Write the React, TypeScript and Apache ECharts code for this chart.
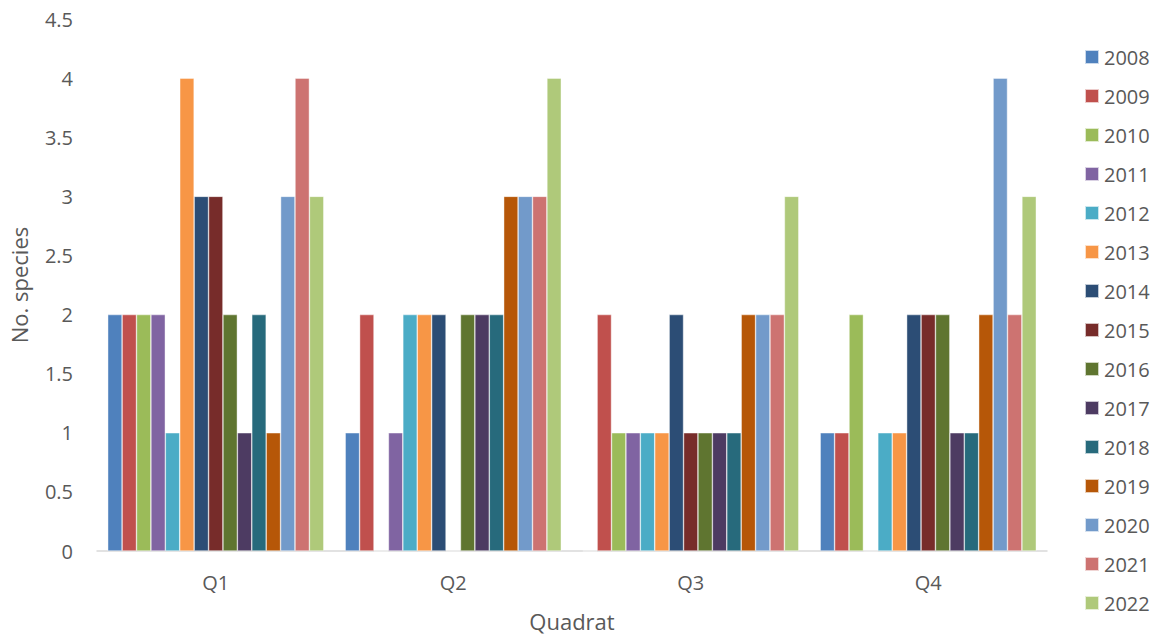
import React, { useEffect, useRef } from "react";
import * as echarts from "echarts";

const categories = ["Q1", "Q2", "Q3", "Q4"];
const years = ["2008", "2009", "2010", "2011", "2012", "2013", "2014", "2015", "2016", "2017", "2018", "2019", "2020", "2021", "2022"];
const colors = ["#4F81BD", "#C0504D", "#9BBB59", "#8064A2", "#4BACC6", "#F79646", "#2C4D75", "#772C2A", "#5F7530", "#4D3B62", "#276A7C", "#B65708", "#729ACA", "#CD7371", "#AFC97A"];
// values per year: [Q1, Q2, Q3, Q4]
const v2008 = [2, 1, 0, 1];
const v2009 = [2, 2, 2, 1];
const v2010 = [2, 0, 1, 2];
const v2011 = [2, 1, 1, 0];
const v2012 = [1, 2, 1, 1];
const v2013 = [4, 2, 1, 1];
const v2014 = [3, 2, 2, 2];
const v2015 = [3, 0, 1, 2];
const v2016 = [2, 2, 1, 2];
const v2017 = [1, 2, 1, 1];
const v2018 = [2, 2, 1, 1];
const v2019 = [1, 3, 2, 2];
const v2020 = [3, 3, 2, 4];
const v2021 = [4, 3, 2, 2];
const v2022 = [3, 4, 3, 3];
const seriesValues = [v2008, v2009, v2010, v2011, v2012, v2013, v2014, v2015, v2016, v2017, v2018, v2019, v2020, v2021, v2022];

const FONT = "'Open Sans', 'Noto Sans', sans-serif";
const TXT = "#595959";

export default function App() {
  const ref = useRef<HTMLDivElement>(null);
  useEffect(() => {
    const chart = echarts.init(ref.current!, undefined, { renderer: "svg" });
    chart.setOption({
      animation: false,
      color: colors,
      grid: { left: 96, right: 110, top: 19, bottom: 90, containLabel: false },
      legend: {
        orient: "vertical",
        left: 1079,
        top: 42,
        itemWidth: 14,
        itemHeight: 14,
        itemGap: 19,
        icon: "rect",
        textStyle: { color: TXT, fontSize: 20, fontFamily: FONT, lineHeight: 20, padding: [0, 0, 0, 0] },
        data: years,
      },
      xAxis: {
        type: "category",
        data: categories,
        name: "Quadrat",
        nameLocation: "middle",
        nameGap: 59,
        nameTextStyle: { color: TXT, fontSize: 22, fontFamily: FONT },
        axisLine: { lineStyle: { color: "#D9D9D9", width: 1.5 } },
        axisTick: { show: false },
        axisLabel: { color: TXT, fontSize: 20, fontFamily: FONT, margin: 21 },
      },
      yAxis: {
        type: "value",
        min: 0,
        max: 4.5,
        interval: 0.5,
        name: "No. species",
        nameLocation: "middle",
        nameGap: 67,
        nameTextStyle: { color: TXT, fontSize: 22, fontFamily: FONT },
        splitLine: { show: false },
        axisLine: { show: false },
        axisTick: { show: false },
        axisLabel: { color: TXT, fontSize: 20, fontFamily: FONT, margin: 24 },
      },
      series: years.map((y, i) => ({
        name: y,
        type: "bar",
        data: seriesValues[i],
        barGap: "0%",
        barCategoryGap: "9%",
        itemStyle: { borderColor: "rgba(255,255,255,0.7)", borderWidth: 0.6 },
      })),
    });
    return () => chart.dispose();
  }, []);
  return <div ref={ref} style={{ width: 1157, height: 641, position: "absolute", left: 0, top: 0 }} />;
}
